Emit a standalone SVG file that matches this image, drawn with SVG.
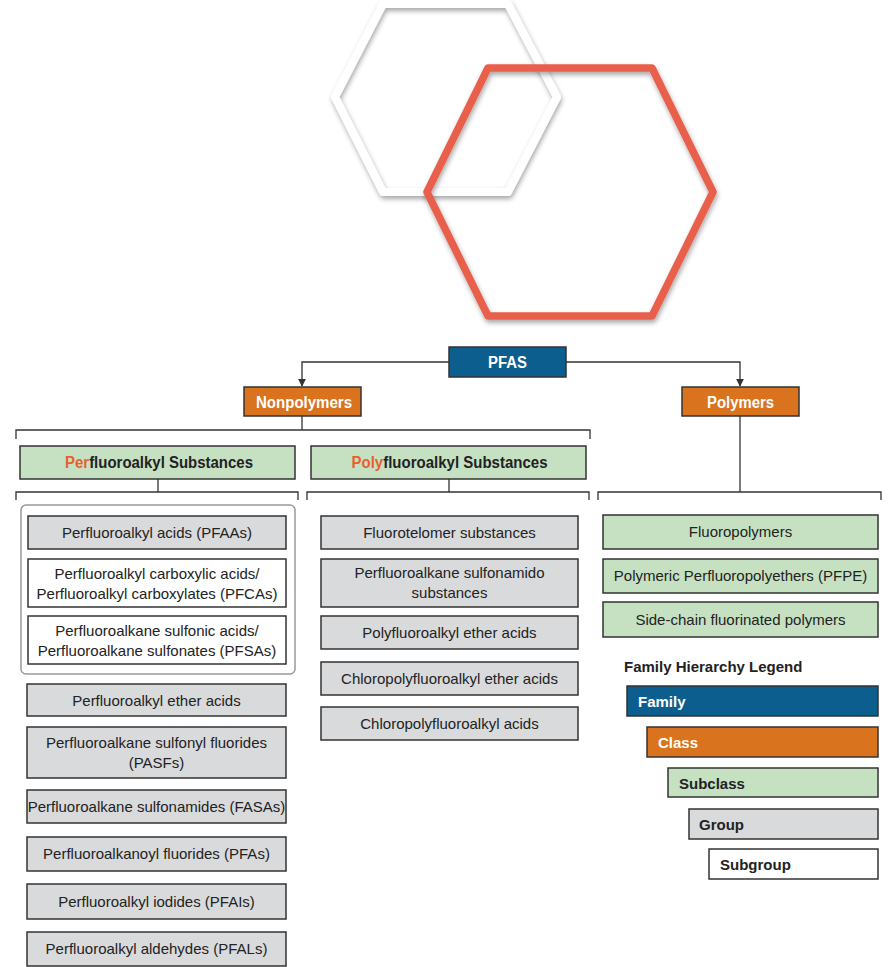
<svg xmlns="http://www.w3.org/2000/svg" width="888" height="967" viewBox="0 0 888 967">
<defs>
<filter id="sh" x="-20%" y="-20%" width="140%" height="140%">
<feDropShadow dx="1" dy="3" stdDeviation="2.5" flood-color="#000" flood-opacity="0.35"/>
</filter>
<marker id="arr" viewBox="0 0 10 10" refX="9" refY="5" markerWidth="8" markerHeight="8" markerUnits="userSpaceOnUse" orient="auto">
<path d="M0,0 L10,5 L0,10 z" fill="#333"/>
</marker>
<style>
.con{fill:none;stroke:#333;stroke-width:1.3}
.fam{fill:#0B5E8E;stroke:#333;stroke-width:1.5}
.cls{fill:#D9731E;stroke:#333;stroke-width:1.5}
.sub{fill:#C6E1C2;stroke:#333;stroke-width:1.5}
.grp{fill:#D9DADC;stroke:#333;stroke-width:1.5}
.sgr{fill:#FFFFFF;stroke:#333;stroke-width:1.5}
.hd{font-family:"Liberation Sans Narrow","Liberation Sans",Arial,sans-serif;font-weight:bold;font-size:16px;text-anchor:middle}
.w{fill:#FFFFFF}
.dk{fill:#222}
.or{fill:#E8602E}
.t{font-family:"Liberation Sans",Arial,sans-serif;font-size:15px;fill:#222;text-anchor:middle}
.lg{font-family:"Liberation Sans",Arial,sans-serif;font-size:15px;font-weight:bold}
</style>
</defs>
<rect width="888" height="967" fill="#FFFFFF"/>

<g id="hexagons">
<polygon points="383,4 508,4 557,97 508,192 383,192 335,97" fill="none" stroke="#FFFFFF" stroke-width="8" stroke-linejoin="round" filter="url(#sh)"/>
<polygon points="488,68 652,68 713,192 652,316 488,316 427,192" fill="none" stroke="#E8604C" stroke-width="7.5" stroke-linejoin="round" filter="url(#sh)"/>
</g>

<g id="connectors">
<path class="con" d="M449,362 H302 V386" marker-end="url(#arr)"/>
<path class="con" d="M566,362 H740 V386" marker-end="url(#arr)"/>
<path class="con" d="M302,416 V430"/>
<path class="con" d="M16,439 V430 H590 V439"/>
<path class="con" d="M740,416 V492"/>
<path class="con" d="M598,500 V492 H881 V500"/>
<path class="con" d="M158,479 V492"/>
<path class="con" d="M16,500 V492 H298 V500"/>
<path class="con" d="M449,479 V492"/>
<path class="con" d="M307,500 V492 H589 V500"/>
</g>

<g id="pfas">
<rect class="fam" x="449" y="347" width="117" height="30"/>
<text class="hd w" x="507.5" y="368" textLength="39" lengthAdjust="spacingAndGlyphs">PFAS</text>
</g>
<g id="nonpolymers">
<rect class="cls" x="244" y="387" width="117" height="29"/>
<text class="hd w" x="304" y="407.5" textLength="96" lengthAdjust="spacingAndGlyphs">Nonpolymers</text>
</g>
<g id="polymers">
<rect class="cls" x="682" y="387" width="117" height="29"/>
<text class="hd w" x="740.5" y="407.5" textLength="67" lengthAdjust="spacingAndGlyphs">Polymers</text>
</g>
<g id="perfluoroalkyl-substances">
<rect class="sub" x="20" y="446" width="275" height="33"/>
<text class="hd dk" x="159" y="468" textLength="188" lengthAdjust="spacingAndGlyphs"><tspan class="or">Per</tspan>fluoroalkyl Substances</text>
</g>
<g id="polyfluoroalkyl-substances">
<rect class="sub" x="311" y="446" width="275" height="33"/>
<text class="hd dk" x="449.5" y="468" textLength="196" lengthAdjust="spacingAndGlyphs"><tspan class="or">Poly</tspan>fluoroalkyl Substances</text>
</g>

<g id="pfaa-group">
<rect x="21" y="505" width="274" height="169" rx="5" fill="none" stroke="#999" stroke-width="1.5"/>
</g>
<g id="pfaas">
<rect class="grp" x="28" y="516" width="258" height="33"/>
<text class="t" x="157" y="538">Perfluoroalkyl acids (PFAAs)</text>
</g>
<g id="pfcas">
<rect class="sgr" x="28" y="559" width="258" height="48"/>
<text class="t" x="157" y="579">Perfluoroalkyl carboxylic acids/</text>
<text class="t" x="157" y="599">Perfluoroalkyl carboxylates (PFCAs)</text>
</g>
<g id="pfsas">
<rect class="sgr" x="28" y="616" width="258" height="48"/>
<text class="t" x="157" y="636">Perfluoroalkane sulfonic acids/</text>
<text class="t" x="157" y="656">Perfluoroalkane sulfonates (PFSAs)</text>
</g>
<g id="pf-ether-acids">
<rect class="grp" x="27" y="684" width="259" height="32"/>
<text class="t" x="156.5" y="705.5">Perfluoroalkyl ether acids</text>
</g>
<g id="pasfs">
<rect class="grp" x="27" y="727" width="259" height="51"/>
<text class="t" x="156.5" y="748">Perfluoroalkane sulfonyl fluorides</text>
<text class="t" x="156.5" y="768">(PASFs)</text>
</g>
<g id="fasas">
<rect class="grp" x="27" y="790" width="259" height="33"/>
<text class="t" x="156.5" y="811.5">Perfluoroalkane sulfonamides (FASAs)</text>
</g>
<g id="pfas-fluorides">
<rect class="grp" x="27" y="837" width="259" height="34"/>
<text class="t" x="156.5" y="859">Perfluoroalkanoyl fluorides (PFAs)</text>
</g>
<g id="pfais">
<rect class="grp" x="27" y="884" width="259" height="35"/>
<text class="t" x="156.5" y="906.5">Perfluoroalkyl iodides (PFAIs)</text>
</g>
<g id="pfals">
<rect class="grp" x="27" y="932" width="259" height="34"/>
<text class="t" x="156.5" y="954">Perfluoroalkyl aldehydes (PFALs)</text>
</g>

<g id="fluorotelomer">
<rect class="grp" x="321" y="516" width="257" height="33"/>
<text class="t" x="449.5" y="537.5">Fluorotelomer substances</text>
</g>
<g id="sulfonamido">
<rect class="grp" x="321" y="559" width="257" height="48"/>
<text class="t" x="449.5" y="578">Perfluoroalkane sulfonamido</text>
<text class="t" x="449.5" y="598">substances</text>
</g>
<g id="poly-ether-acids">
<rect class="grp" x="321" y="616" width="257" height="33"/>
<text class="t" x="449.5" y="637.5">Polyfluoroalkyl ether acids</text>
</g>
<g id="chloro-ether-acids">
<rect class="grp" x="321" y="662" width="257" height="33"/>
<text class="t" x="449.5" y="683.5">Chloropolyfluoroalkyl ether acids</text>
</g>
<g id="chloro-acids">
<rect class="grp" x="321" y="707" width="257" height="33"/>
<text class="t" x="449.5" y="728.5">Chloropolyfluoroalkyl acids</text>
</g>

<g id="fluoropolymers">
<rect class="sub" x="603" y="515" width="275" height="34"/>
<text class="t" x="740.5" y="537">Fluoropolymers</text>
</g>
<g id="pfpe">
<rect class="sub" x="603" y="559" width="275" height="34"/>
<text class="t" x="740.5" y="581">Polymeric Perfluoropolyethers (PFPE)</text>
</g>
<g id="side-chain">
<rect class="sub" x="603" y="602" width="275" height="35"/>
<text class="t" x="740.5" y="624.5">Side-chain fluorinated polymers</text>
</g>

<g id="legend">
<text class="lg" x="624" y="672" fill="#222" font-size="14.5">Family Hierarchy Legend</text>
<rect class="fam" x="627" y="686" width="251" height="30"/>
<text class="lg" x="638" y="707" fill="#FFFFFF">Family</text>
<rect class="cls" x="647" y="727" width="231" height="30"/>
<text class="lg" x="658" y="748" fill="#FFFFFF">Class</text>
<rect class="sub" x="668" y="768" width="210" height="29"/>
<text class="lg" x="679" y="789" fill="#222">Subclass</text>
<rect class="grp" x="689" y="809" width="189" height="30"/>
<text class="lg" x="699" y="830" fill="#222">Group</text>
<rect class="sgr" x="709" y="849" width="169" height="30"/>
<text class="lg" x="720" y="870" fill="#222">Subgroup</text>
</g>
</svg>
